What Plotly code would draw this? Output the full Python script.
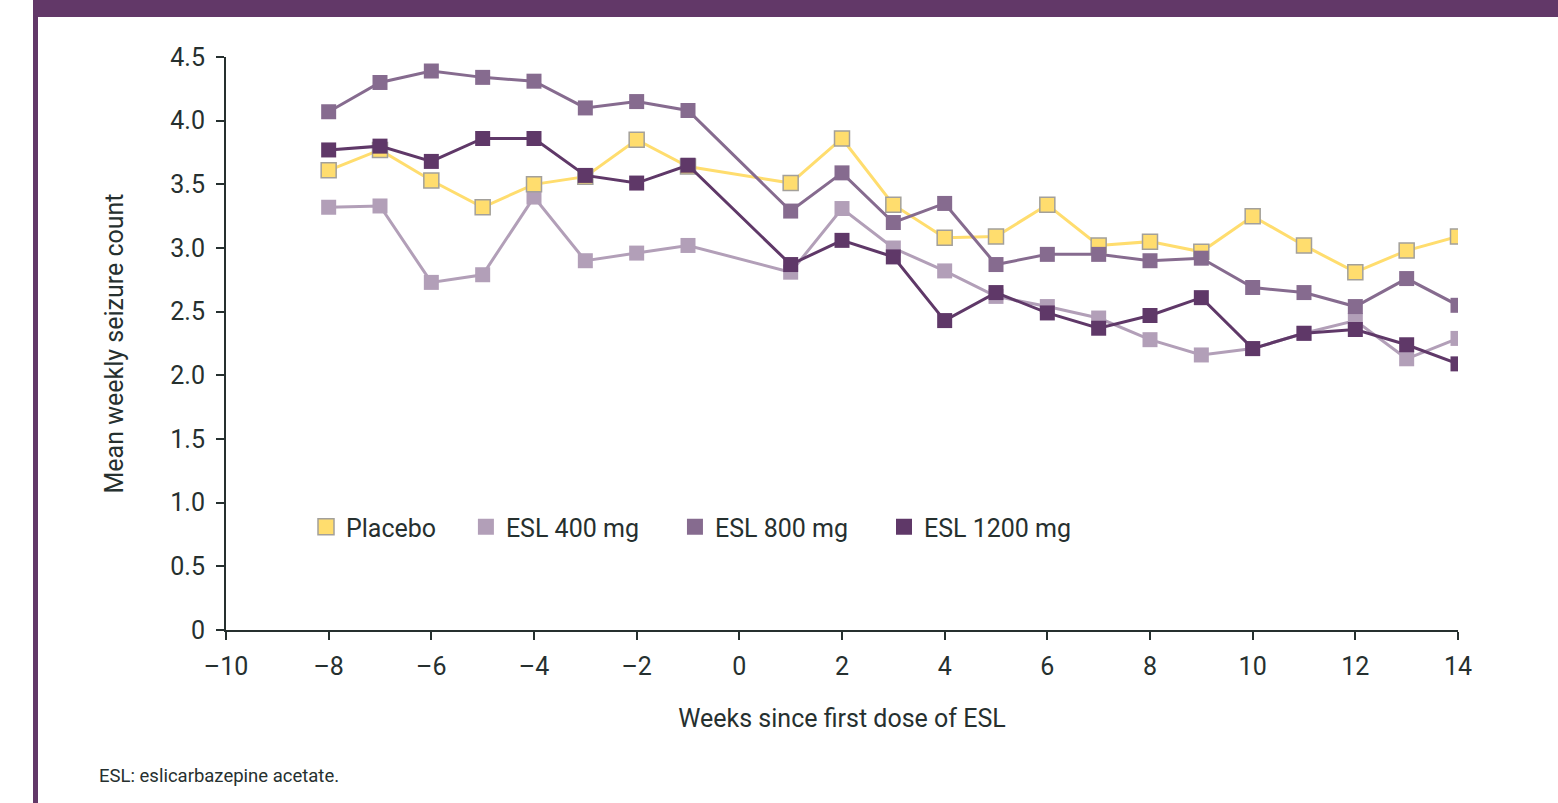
import plotly.graph_objects as go

# Weeks relative to first ESL dose (no week 0)
weeks = [-8, -7, -6, -5, -4, -3, -2, -1, 1, 2, 3, 4, 5, 6, 7, 8, 9, 10, 11, 12, 13, 14]

placebo = [3.61, 3.77, 3.53, 3.32, 3.50, 3.56, 3.85, 3.64, 3.51, 3.86, 3.34, 3.08,
           3.09, 3.34, 3.02, 3.05, 2.97, 3.25, 3.02, 2.81, 2.98, 3.09]
esl_400 = [3.32, 3.33, 2.73, 2.79, 3.40, 2.90, 2.96, 3.02, 2.81, 3.31, 3.00, 2.82,
           2.62, 2.54, 2.45, 2.28, 2.16, 2.21, 2.33, 2.43, 2.13, 2.29]
esl_800 = [4.07, 4.30, 4.39, 4.34, 4.31, 4.10, 4.15, 4.08, 3.29, 3.59, 3.20, 3.35,
           2.87, 2.95, 2.95, 2.90, 2.92, 2.69, 2.65, 2.54, 2.76, 2.55]
esl_1200 = [3.77, 3.80, 3.68, 3.86, 3.86, 3.57, 3.51, 3.65, 2.87, 3.06, 2.93, 2.43,
            2.65, 2.49, 2.37, 2.47, 2.61, 2.21, 2.33, 2.36, 2.24, 2.09]

x_ticks = [-10, -8, -6, -4, -2, 0, 2, 4, 6, 8, 10, 12, 14]
x_tick_text = ["\u201310", "\u20138", "\u20136", "\u20134", "\u20132", "0", "2", "4",
               "6", "8", "10", "12", "14"]
y_ticks = [0, 0.5, 1.0, 1.5, 2.0, 2.5, 3.0, 3.5, 4.0, 4.5]
y_tick_text = ["0", "0.5", "1.0", "1.5", "2.0", "2.5", "3.0", "3.5", "4.0", "4.5"]

FONT = "Roboto, Arial, sans-serif"
INK = "#26302f"
FRAME = "#623868"

W, H = 1558, 803
L, R, T, B = 226, 100, 57, 173

# name, values, colour, marker edge colour, edge width, legend rank, legend padding
series = [
    ("ESL 400 mg", esl_400, "#b29fb8", "#b29fb8", 0, 2, 5),
    ("Placebo", placebo, "#ffdd6e", "#a3a09a", 1.5, 1, 4),
    ("ESL 800 mg", esl_800, "#866b8f", "#866b8f", 0, 3, 5),
    ("ESL 1200 mg", esl_1200, "#5f3868", "#5f3868", 0, 4, 0),
]

fig = go.Figure()
# draw order: 400 mg underneath, then placebo, 800 mg, 1200 mg on top
for name, vals, color, edge, ew, rank, pad in series:
    fig.add_trace(go.Scatter(
        x=weeks, y=vals, name=name, mode="lines+markers", showlegend=False,
        line=dict(color=color, width=3),
        marker=dict(symbol="square", size=15, color=color,
                    line=dict(color=edge, width=ew)),
    ))
# legend keys show the square marker only
for name, vals, color, edge, ew, rank, pad in series:
    fig.add_trace(go.Scatter(
        x=[None], y=[None], name=name + "\u00a0" * pad, mode="markers",
        legendrank=rank,
        marker=dict(symbol="square", size=19, color=color,
                    line=dict(color=edge, width=ew)),
    ))


def px_x(p):
    return (p - L) / (W - L - R)


def px_y(p):
    return (H - B - p) / (H - T - B)


shapes = [
    # top band
    dict(type="rect", xref="paper", yref="paper", x0=px_x(33), x1=px_x(W + 5),
         y0=px_y(17), y1=px_y(-5), fillcolor=FRAME, line=dict(width=0), layer="above"),
    # left rule
    dict(type="rect", xref="paper", yref="paper", x0=px_x(33), x1=px_x(38),
         y0=px_y(H + 5), y1=px_y(0), fillcolor=FRAME, line=dict(width=0), layer="above"),
]

fig.update_layout(
    width=W, height=H,
    margin=dict(l=L, r=R, t=T, b=B),
    paper_bgcolor="white", plot_bgcolor="white",
    font=dict(family=FONT, color=INK, size=24),
    shapes=shapes,
    showlegend=True,
    legend=dict(orientation="h", x=px_x(306), y=px_y(527), xanchor="left", yanchor="middle",
                font=dict(size=25, family=FONT, color=INK), bgcolor="rgba(0,0,0,0)",
                itemsizing="trace", traceorder="normal", itemwidth=30),
    xaxis=dict(range=[-10, 14], tickmode="array", tickvals=x_ticks, ticktext=x_tick_text,
               showgrid=False, zeroline=False, showline=True, linecolor=INK, linewidth=2,
               ticks="outside", ticklen=8, tickwidth=2, tickcolor=INK, ticklabelstandoff=5,
               tickfont=dict(size=25, family=FONT, color=INK),
               title=dict(text="Weeks since first dose of ESL", standoff=29,
                          font=dict(size=25, family=FONT, color=INK))),
    yaxis=dict(range=[0, 4.5], tickmode="array", tickvals=y_ticks, ticktext=y_tick_text,
               showgrid=False, zeroline=False, showline=True, linecolor=INK, linewidth=2,
               ticks="outside", ticklen=8, tickwidth=2, tickcolor=INK, ticklabelstandoff=6,
               tickfont=dict(size=25, family=FONT, color=INK),
               title=dict(text="Mean weekly seizure count", standoff=40,
                          font=dict(size=25, family=FONT, color=INK))),
    annotations=[
        dict(text="ESL: eslicarbazepine acetate.", xref="paper", yref="paper",
             x=px_x(97), y=px_y(776), xanchor="left", yanchor="middle", showarrow=False,
             font=dict(size=18.5, family=FONT, color=INK)),
    ],
)

fig.write_html("out.html")
